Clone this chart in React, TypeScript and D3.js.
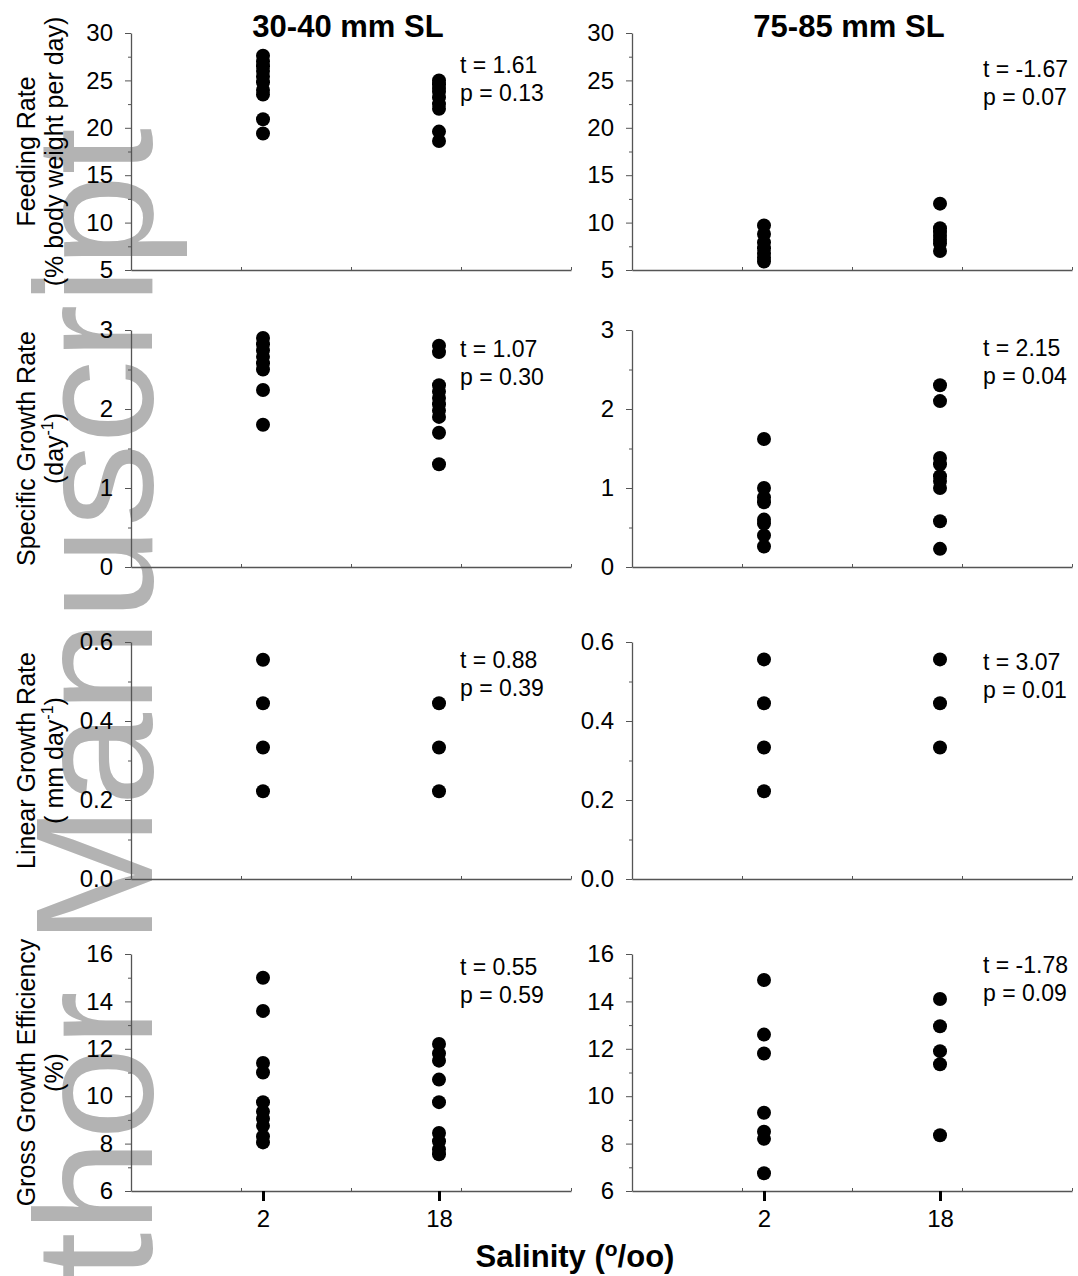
import { useEffect, useRef } from 'react';
import * as d3 from 'd3';

// salinity groups on the x axis
const salinities = [2, 18];

// Feeding rate (% body weight per day)
const feedSmall2 = [27.6, 27.0, 26.5, 26.0, 25.4, 24.8, 24.0, 23.5, 20.9, 19.4];
const feedSmall18 = [25.0, 24.6, 24.2, 23.8, 23.2, 22.5, 22.0, 19.6, 18.6];
const feedLarge2 = [9.7, 8.8, 7.9, 7.3, 6.8, 6.3, 5.9];
const feedLarge18 = [12.0, 9.4, 9.0, 8.6, 8.2, 7.8, 7.0];

// Specific growth rate (day-1)
const sgrSmall2 = [2.9, 2.82, 2.74, 2.66, 2.58, 2.5, 2.24, 1.8];
const sgrSmall18 = [2.8, 2.72, 2.3, 2.22, 2.14, 2.06, 1.98, 1.9, 1.7, 1.3];
const sgrLarge2 = [1.62, 1.0, 0.88, 0.82, 0.6, 0.55, 0.4, 0.26];
const sgrLarge18 = [2.3, 2.1, 1.38, 1.3, 1.15, 1.09, 1.0, 0.58, 0.23];

// Linear growth rate (mm day-1)
const lgrSmall2 = [0.555, 0.445, 0.333, 0.222];
const lgrSmall18 = [0.445, 0.333, 0.222];
const lgrLarge2 = [0.556, 0.445, 0.333, 0.222];
const lgrLarge18 = [0.556, 0.445, 0.333];

// Gross growth efficiency (%)
const ggeSmall2 = [15.0, 13.6, 11.4, 11.0, 9.75, 9.35, 9.05, 8.75, 8.3, 8.05];
const ggeSmall18 = [12.2, 11.8, 11.5, 10.7, 9.75, 8.45, 8.1, 7.75, 7.55];
const ggeLarge2 = [14.9, 12.6, 11.8, 9.3, 8.5, 8.2, 6.75];
const ggeLarge18 = [14.1, 12.95, 11.9, 11.35, 8.35];

const sizeClasses = ['30-40 mm SL', '75-85 mm SL'];

const rows = [
  {
    domain: [5, 30], ticks: [5, 10, 15, 20, 25, 30], minorStep: 2.5, fmt: d3.format('d'),
    label: ['Feeding Rate', '(% body weight per day)'],
    series: [[feedSmall2, feedSmall18], [feedLarge2, feedLarge18]],
    stats: [['t = 1.61', 'p = 0.13'], ['t = -1.67', 'p = 0.07']],
    statY: [73, 77],
  },
  {
    domain: [0, 3], ticks: [0, 1, 2, 3], minorStep: 0.5, fmt: d3.format('d'),
    label: ['Specific Growth Rate', 'day'],
    series: [[sgrSmall2, sgrSmall18], [sgrLarge2, sgrLarge18]],
    stats: [['t = 1.07', 'p = 0.30'], ['t = 2.15', 'p = 0.04']],
    statY: [357, 356],
  },
  {
    domain: [0, 0.6], ticks: [0, 0.2, 0.4, 0.6], minorStep: 0.1, fmt: d3.format('.1f'),
    label: ['Linear Growth Rate', ' mm day'],
    series: [[lgrSmall2, lgrSmall18], [lgrLarge2, lgrLarge18]],
    stats: [['t = 0.88', 'p = 0.39'], ['t = 3.07', 'p = 0.01']],
    statY: [668, 670],
  },
  {
    domain: [6, 16], ticks: [6, 8, 10, 12, 14, 16], minorStep: 1, fmt: d3.format('d'),
    label: ['Gross Growth Efficiency', '(%)'],
    series: [[ggeSmall2, ggeSmall18], [ggeLarge2, ggeLarge18]],
    stats: [['t = 0.55', 'p = 0.59'], ['t = -1.78', 'p = 0.09']],
    statY: [975, 973],
  },
];

const W = 1078;
const H = 1276;
const rowTop = [33, 330, 642, 954];
const rowH = 237;
const colLeft = [131, 632];
const colW = 440;
const FONT = 'Liberation Sans, Arial, Helvetica, sans-serif';

export default function App() {
  const svgRef = useRef<SVGSVGElement>(null);

  useEffect(() => {
    const svg = d3.select(svgRef.current);
    svg.selectAll('*').remove();

    // marca de agua
    svg.append('text')
      .attr('transform', 'translate(152,128) rotate(-90)')
      .attr('text-anchor', 'end')
      .attr('font-family', FONT)
      .attr('font-size', 167)
      .attr('fill', '#b3b3b3')
      .text('Author Manuscript');

    rows.forEach((row, ri) => {
      const y = d3.scaleLinear().domain(row.domain).range([rowTop[ri] + rowH, rowTop[ri]]);
      const minor = d3.range(row.domain[0], row.domain[1] + 1e-9, row.minorStep)
        .filter(v => !row.ticks.some(t => Math.abs(t - v) < 1e-9));

      colLeft.forEach((x0, ci) => {
        const x = d3.scaleLinear().domain([-10, 30]).range([x0, x0 + colW]);
        const g = svg.append('g');
        const yBase = rowTop[ri] + rowH;

        // minor y ticks
        g.append('g')
          .attr('transform', `translate(${x0},0)`)
          .call(d3.axisLeft(y).tickValues(minor).tickSize(3).tickFormat(() => ''))
          .call(a => a.select('.domain').remove())
          .selectAll('line').attr('stroke', '#555');

        // major y ticks + labels
        const ya = g.append('g')
          .attr('transform', `translate(${x0},0)`)
          .call(d3.axisLeft(y).tickValues(row.ticks).tickSize(6).tickSizeOuter(0).tickPadding(12).tickFormat(row.fmt as any));
        ya.select('.domain').attr('stroke', '#555').attr('stroke-width', 1.3);
        ya.selectAll('line').attr('stroke', '#555');
        ya.selectAll('text').attr('font-family', FONT).attr('font-size', 24).attr('fill', '#000');

        // x axis
        const xa = g.append('g')
          .attr('transform', `translate(0,${yBase})`)
          .call(d3.axisBottom(x).tickValues([0, 10, 20, 30]).tickSize(-3).tickSizeOuter(0).tickFormat(() => ''));
        xa.select('.domain').attr('stroke', '#555').attr('stroke-width', 1.3);
        xa.selectAll('line').attr('stroke', '#555');

        if (ri === rows.length - 1) {
          const xb = g.append('g')
            .attr('transform', `translate(0,${yBase})`)
            .call(d3.axisBottom(x).tickValues(salinities).tickSize(10).tickPadding(9).tickFormat(d3.format('d') as any));
          xb.select('.domain').remove();
          xb.selectAll('line').attr('stroke', '#000').attr('stroke-width', 3);
          xb.selectAll('text').attr('font-family', FONT).attr('font-size', 24).attr('fill', '#000');
        }

        // dots
        row.series[ci].forEach((vals, si) => {
          g.selectAll(null)
            .data(vals)
            .enter()
            .append('circle')
            .attr('cx', x(salinities[si]))
            .attr('cy', d => y(d))
            .attr('r', 7)
            .attr('fill', '#000');
        });

        // t / p labels
        const sx = ci === 0 ? 460 : 983;
        row.stats[ci].forEach((s, k) => {
          g.append('text')
            .attr('x', sx)
            .attr('y', row.statY[ci] + k * 28)
            .attr('font-family', FONT)
            .attr('font-size', 23)
            .text(s);
        });
      });

      // y label
      const cy = rowTop[ri] + rowH / 2;
      const lab = svg.append('g')
        .attr('font-family', FONT)
        .attr('font-size', 25)
        .attr('text-anchor', 'middle');
      lab.append('text')
        .attr('transform', `translate(35,${cy}) rotate(-90)`)
        .text(row.label[0]);
      const t2 = lab.append('text')
        .attr('transform', `translate(63,${cy}) rotate(-90)`);
      if (ri === 1 || ri === 2) {
        t2.append('tspan').text('(' + row.label[1]);
        t2.append('tspan').attr('font-size', 16).attr('dy', -10).text('-1');
        t2.append('tspan').attr('dy', 10).text(')');
      } else {
        t2.text(row.label[1]);
      }
    });

    // column titles
    sizeClasses.forEach((s, ci) => {
      svg.append('text')
        .attr('x', colLeft[ci] + 217)
        .attr('y', 37)
        .attr('text-anchor', 'middle')
        .attr('font-family', FONT)
        .attr('font-weight', 'bold')
        .attr('font-size', 31)
        .text(s);
    });

    // x title
    const xt = svg.append('text')
      .attr('x', 575)
      .attr('y', 1267)
      .attr('text-anchor', 'middle')
      .attr('font-family', FONT)
      .attr('font-weight', 'bold')
      .attr('font-size', 31);
    xt.append('tspan').text('Salinity (');
    xt.append('tspan').attr('font-size', 21).attr('dy', -11).text('o');
    xt.append('tspan').attr('dy', 11).text('/oo)');
  }, []);

  return (
    <svg ref={svgRef} width={W} height={H}
      style={{ position: 'absolute', left: 0, top: 0, background: '#fff' }} />
  );
}
